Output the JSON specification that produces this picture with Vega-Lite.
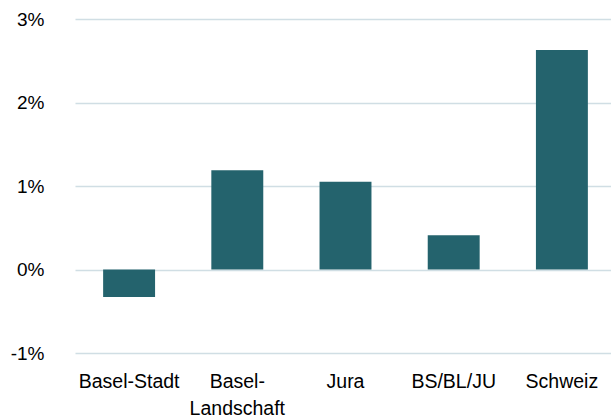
{
  "$schema": "https://vega.github.io/schema/vega-lite/v6.json",
  "autosize": "none",
  "width": 541,
  "height": 334,
  "padding": {"left": 75, "top": 19, "right": 0, "bottom": 66},
  "background": "white",
  "config": {
    "view": {"stroke": null},
    "font": "Liberation Sans"
  },
  "data": {
    "values": [
      {"region": "Basel-Stadt", "value": -0.0033},
      {"region": "Basel-Landschaft", "value": 0.0119},
      {"region": "Jura", "value": 0.0105},
      {"region": "BS/BL/JU", "value": 0.0041},
      {"region": "Schweiz", "value": 0.0263}
    ]
  },
  "mark": {"type": "bar", "color": "#24636D"},
  "encoding": {
    "x": {
      "field": "region",
      "type": "nominal",
      "sort": null,
      "scale": {"paddingInner": 0.52, "paddingOuter": 0.26},
      "axis": {
        "title": null,
        "domain": false,
        "ticks": false,
        "labelAngle": 0,
        "labelFont": "Liberation Sans",
        "labelFontSize": 19.5,
        "labelColor": "#000000",
        "labelPadding": 19,
        "labelBaseline": "top",
        "labelLineHeight": 27,
        "labelExpr": "datum.label == 'Basel-Landschaft' ? ['Basel-', 'Landschaft'] : datum.label"
      }
    },
    "y": {
      "field": "value",
      "type": "quantitative",
      "scale": {"domain": [-0.01, 0.03], "nice": false, "zero": false},
      "axis": {
        "title": null,
        "values": [-0.01, 0, 0.01, 0.02, 0.03],
        "labelExpr": "replace(format(datum.value, '.0%'), '−', '-')",
        "domain": false,
        "ticks": false,
        "grid": true,
        "gridColor": "#D0DEE4",
        "gridWidth": 1.5,
        "labelFont": "Liberation Sans",
        "labelFontSize": 19,
        "labelColor": "#000000",
        "labelPadding": 31
      }
    }
  }
}
